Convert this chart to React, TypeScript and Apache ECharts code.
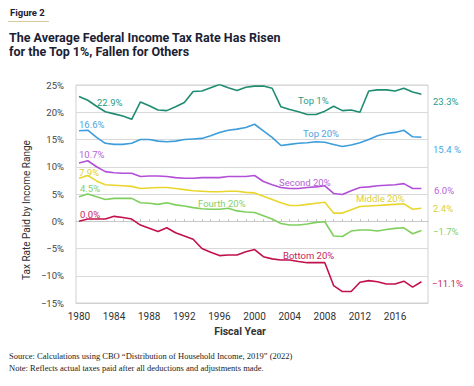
import React, { useEffect, useRef } from "react";
import * as echarts from "echarts";

const years = [
  1980, 1981, 1982, 1983, 1984, 1985, 1986, 1987, 1988, 1989,
  1990, 1991, 1992, 1993, 1994, 1995, 1996, 1997, 1998, 1999,
  2000, 2001, 2002, 2003, 2004, 2005, 2006, 2007, 2008, 2009,
  2010, 2011, 2012, 2013, 2014, 2015, 2016, 2017, 2018, 2019,
];
const xTickLabels = [1980, 1984, 1988, 1992, 1996, 2000, 2004, 2008, 2012, 2016];

const top1 = [
  22.9, 22.2, 21.1, 20.1, 19.7, 19.3, 18.7, 21.9, 21.2, 20.4,
  20.3, 21.0, 21.8, 23.8, 23.9, 24.5, 25.1, 24.5, 24.0, 24.6,
  24.8, 24.8, 24.4, 21.0, 20.5, 20.1, 19.6, 19.6, 20.2, 21.1,
  20.3, 20.4, 20.0, 23.9, 24.1, 24.1, 23.9, 24.4, 23.7, 23.3,
];
const top20 = [
  16.6, 16.7, 15.4, 14.3, 14.1, 14.1, 14.3, 15.0, 15.0, 14.7,
  14.6, 14.7, 15.0, 15.1, 15.2, 15.7, 16.3, 16.7, 16.9, 17.2,
  17.8, 16.6, 15.4, 13.9, 14.1, 14.3, 14.4, 14.6, 14.5, 14.1,
  13.7, 14.0, 14.4, 15.0, 15.7, 16.1, 16.3, 16.7, 15.5, 15.4,
];
const second20 = [
  10.7, 11.1, 10.0, 9.1, 8.9, 8.8, 8.8, 8.2, 8.3, 8.3,
  8.2, 8.0, 7.9, 7.9, 8.0, 8.0, 8.0, 8.2, 8.2, 8.2,
  8.4, 7.3, 6.7, 6.2, 6.0, 6.0, 6.2, 6.3, 6.5, 5.1,
  4.9, 5.6, 6.2, 6.3, 6.5, 6.6, 6.7, 6.9, 6.0, 6.0,
];
const middle20 = [
  7.9, 8.4, 7.4, 6.7, 6.6, 6.5, 6.4, 6.0, 6.1, 6.2,
  6.2, 6.0, 5.8, 5.6, 5.5, 5.4, 5.4, 5.5, 5.5, 5.3,
  5.2, 4.6, 4.0, 3.4, 2.9, 2.9, 3.1, 3.3, 3.5, 1.5,
  1.5, 2.1, 2.7, 2.8, 2.9, 3.0, 3.1, 3.2, 2.2, 2.4,
];
const fourth20 = [
  4.5, 5.0, 4.5, 4.0, 4.2, 4.2, 4.2, 3.4, 3.3, 3.1,
  3.4, 3.0, 2.8, 2.5, 2.3, 2.2, 2.2, 2.4, 1.9, 1.7,
  1.6, 1.0, 0.4, -0.4, -0.7, -0.7, -0.5, -0.2, -0.1, -2.7,
  -2.8, -1.8, -1.6, -1.6, -1.8, -1.5, -1.3, -1.2, -2.3, -1.7,
];
const bottom20 = [
  0.0, 0.4, 0.4, 0.4, 0.9, 0.7, 0.4, -0.7, -1.3, -1.9,
  -1.2, -2.1, -2.7, -3.3, -5.0, -5.7, -6.3, -6.2, -6.2, -5.6,
  -5.2, -6.5, -6.9, -7.1, -7.1, -7.4, -7.6, -7.6, -7.6, -11.8,
  -12.9, -12.9, -11.2, -10.9, -11.1, -11.5, -11.5, -11.0, -12.1, -11.1,
];

const seriesNames = ["Top 1%", "Top 20%", "Second 20%", "Middle 20%", "Fourth 20%", "Bottom 20%"];
const seriesData = [top1, top20, second20, middle20, fourth20, bottom20];
const lineColors = ["#1f8c72", "#3d9ddb", "#b24fd8", "#e9d62c", "#7fcf5c", "#c2104c"];
const textColors = ["#2a9a86", "#4aa5de", "#b55fd8", "#ddd03a", "#86cf69", "#c8245a"];
const startLabels = ["22.9%", "16.6%", "10.7%", "7.9%", "4.5%", "0.0%"];
const endLabels = ["23.3%", "15.4 %", "6.0%", "2.4%", "−1.7%", "−11.1%"];

const FONT = "Roboto, 'Liberation Sans', sans-serif";

export default function App() {
  const ref = useRef<HTMLDivElement>(null);
  useEffect(() => {
    if (!ref.current) return;
    const chart = echarts.init(ref.current, undefined, { renderer: "svg" });
    const fmt = (v: number) => (v < 0 ? "−" + Math.abs(v) : String(v)) + "%";
    const txt = (text: string, x: number, y: number, fill: string, size = 9.5, extra: any = {}) => ({
      type: "text",
      x,
      y,
      style: { text, fill, fontSize: size, fontFamily: FONT, textVerticalAlign: "middle", ...extra },
    });
    const startPos: [number, number][] = [[97, 102], [79, 124], [79, 154], [79, 172], [80, 188], [80, 214]];
    const endPos: [number, number][] = [[433, 101], [433, 149], [434, 190], [433, 208], [433, 231], [432, 283]];
    const inlinePos: [number, number][] = [[298, 100], [303, 133], [279, 182], [356, 198], [198, 203], [283, 255]];
    const graphics: any[] = [
      {
        type: "text", x: 10, y: 12,
        style: { text: "Figure 2", fill: "#1b2133", fontSize: 9.5, fontWeight: "bold", fontFamily: FONT, textVerticalAlign: "middle" },
      },
      { type: "line", shape: { x1: 8, y1: 21.5, x2: 49, y2: 21.5 }, style: { stroke: "#d8c9a2", lineWidth: 1 } },
      {
        type: "text", x: 9, y: 37,
        style: { text: "The Average Federal Income Tax Rate Has Risen", fill: "#1b2133", fontSize: 12.5, fontWeight: "bold", fontFamily: FONT, textVerticalAlign: "middle" },
      },
      {
        type: "text", x: 9, y: 51,
        style: { text: "for the Top 1%, Fallen for Others", fill: "#1b2133", fontSize: 12.5, fontWeight: "bold", fontFamily: FONT, textVerticalAlign: "middle" },
      },
      {
        type: "text", x: 26, y: 210, rotation: Math.PI / 2,
        style: { text: "Tax Rate Paid by Income Range", fill: "#333", fontSize: 10, fontFamily: FONT, textAlign: "center", textVerticalAlign: "middle" },
      },
      {
        type: "text", x: 240, y: 331,
        style: { text: "Fiscal Year", fill: "#333", fontSize: 10.5, fontWeight: "bold", fontFamily: FONT, textAlign: "center", textVerticalAlign: "middle" },
      },
      {
        type: "text", x: 9, y: 356,
        style: { text: "Source: Calculations using CBO “Distribution of Household Income, 2019” (2022)", fill: "#222", fontSize: 8.5, fontFamily: "'Liberation Serif', serif", textVerticalAlign: "middle" },
      },
      {
        type: "text", x: 9, y: 368,
        style: { text: "Note: Reflects actual taxes paid after all deductions and adjustments made.", fill: "#222", fontSize: 8.5, fontFamily: "'Liberation Serif', serif", textVerticalAlign: "middle" },
      },
    ];
    seriesNames.forEach((n, i) => {
      graphics.push(txt(startLabels[i], startPos[i][0], startPos[i][1], textColors[i]));
      graphics.push(txt(endLabels[i], endPos[i][0], endPos[i][1], textColors[i]));
      graphics.push(txt(n, inlinePos[i][0], inlinePos[i][1], textColors[i]));
    });

    chart.setOption({
      animation: false,
      grid: { left: 76, right: 46, top: 85, bottom: 83, show: true, borderColor: "#d0d0d0", borderWidth: 1 },
      xAxis: [
        {
          type: "value",
          min: 1979.66,
          max: 2019.75,
          position: "bottom",
          axisLine: { onZero: false, show: true, lineStyle: { color: "#d0d0d0" } },
          axisTick: { show: false },
          splitLine: { show: false },
          axisLabel: { customValues: xTickLabels, color: "#333", fontSize: 10, fontFamily: FONT, formatter: (v: number) => String(v), margin: 8 },
        },
        {
          type: "value",
          min: 1979.66,
          max: 2019.75,
          position: "bottom",
          axisLine: { onZero: true, show: true, lineStyle: { color: "#c8c8c8" } },
          axisTick: { show: true, customValues: years.slice(4), inside: true, length: 2, lineStyle: { color: "#bdbdbd" } },
          axisLabel: { show: false },
          splitLine: { show: false },
        },
      ],
      yAxis: {
        type: "value",
        min: -15,
        max: 25,
        interval: 5,
        axisLine: { show: false },
        axisTick: { show: false },
        splitLine: { show: true, lineStyle: { color: "#d9d9d9", width: 1 } },
        axisLabel: { formatter: fmt, color: "#444", fontSize: 9.5, fontFamily: FONT, margin: 12 },
      },
      series: seriesNames.map((name, i) => ({
        name,
        type: "line",
        xAxisIndex: 0,
        data: years.map((y, j) => [y, seriesData[i][j]]),
        showSymbol: false,
        symbol: "none",
        lineStyle: { color: lineColors[i], width: 1.6 },
        z: 3,
      })),
      graphic: graphics,
    });
    return () => chart.dispose();
  }, []);
  return <div ref={ref} style={{ width: 474, height: 386, position: "absolute", left: 0, top: 0 }} />;
}
